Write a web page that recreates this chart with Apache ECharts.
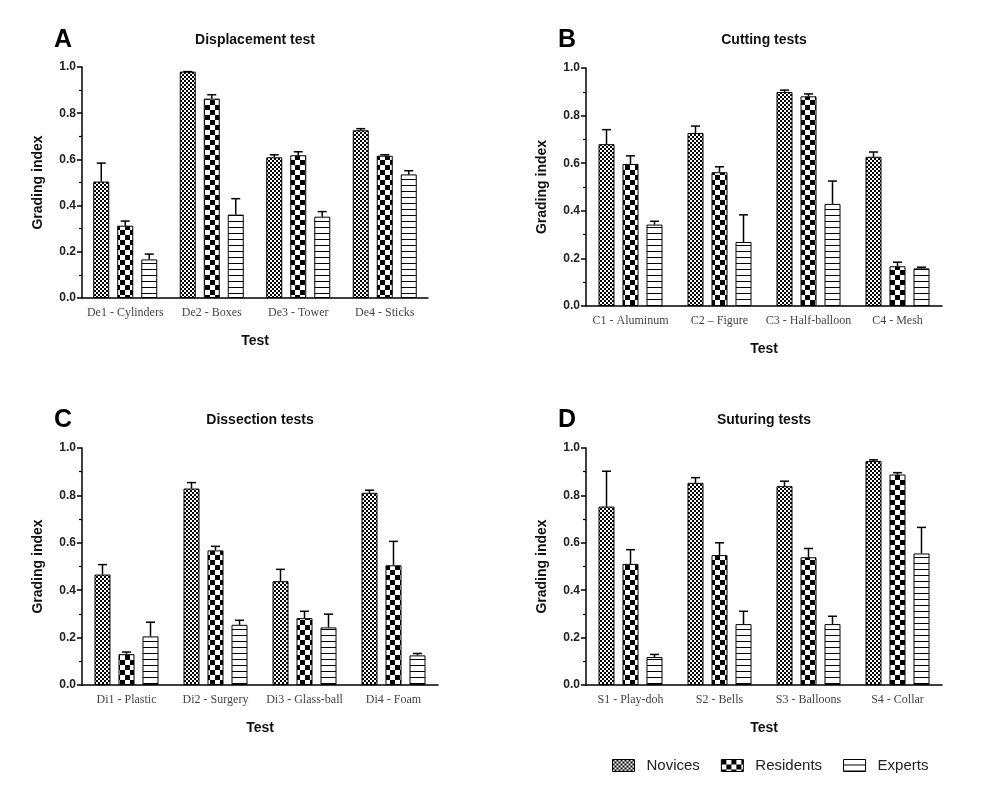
<!DOCTYPE html>
<html><head><meta charset="utf-8">
<script src="https://cdn.jsdelivr.net/npm/echarts@6/dist/echarts.min.js"></script>
<style>html,body{margin:0;padding:0;background:#fff}#c{width:1000px;height:785px}</style>
</head><body><div id="c"></div>
<script>
// ---------- data ----------
const seriesNames = ['Novices', 'Residents', 'Experts'];
const yTicks = [0, 0.2, 0.4, 0.6, 0.8, 1.0];

const catsA = ['De1 - Cylinders', 'De2 - Boxes', 'De3 - Tower', 'De4 - Sticks'];
const novA = [0.504, 0.980, 0.609, 0.726];
const novAErr = [0.080, 0.000, 0.011, 0.007];
const resA = [0.313, 0.863, 0.618, 0.616];
const resAErr = [0.020, 0.017, 0.015, 0.004];
const expA = [0.167, 0.361, 0.352, 0.535];
const expAErr = [0.023, 0.069, 0.022, 0.016];

const catsB = ['C1 - Aluminum', 'C2 \u2013 Figure', 'C3 - Half-balloon', 'C4 - Mesh'];
const novB = [0.680, 0.727, 0.899, 0.627];
const novBErr = [0.061, 0.029, 0.008, 0.020];
const resB = [0.597, 0.562, 0.881, 0.167];
const resBErr = [0.034, 0.023, 0.010, 0.017];
const expB = [0.342, 0.269, 0.429, 0.158];
const expBErr = [0.014, 0.114, 0.096, 0.005];

const catsC = ['Di1 - Plastic', 'Di2 - Surgery', 'Di3 - Glass-ball', 'Di4 - Foam'];
const novC = [0.466, 0.829, 0.438, 0.811];
const novCErr = [0.042, 0.025, 0.050, 0.011];
const resC = [0.130, 0.568, 0.282, 0.505];
const resCErr = [0.009, 0.017, 0.029, 0.101];
const expC = [0.205, 0.254, 0.243, 0.125];
const expCErr = [0.060, 0.019, 0.056, 0.008];

const catsD = ['S1 - Play-doh', 'S2 - Bells', 'S3 - Balloons', 'S4 - Collar'];
const novD = [0.753, 0.853, 0.839, 0.945];
const novDErr = [0.149, 0.022, 0.021, 0.005];
const resD = [0.511, 0.548, 0.539, 0.888];
const resDErr = [0.060, 0.052, 0.037, 0.008];
const expD = [0.118, 0.257, 0.257, 0.555];
const expDErr = [0.011, 0.054, 0.033, 0.110];

const panelTitles = ['Displacement test', 'Cutting tests', 'Dissection tests', 'Suturing tests'];
const panelLetters = ['A', 'B', 'C', 'D'];

// ---------- patterns ----------
function makeChecker(cell) {
  const c = document.createElement('canvas');
  c.width = cell * 2; c.height = cell * 2;
  const g = c.getContext('2d');
  g.fillStyle = '#fff'; g.fillRect(0, 0, c.width, c.height);
  g.fillStyle = '#000';
  g.fillRect(0, 0, cell, cell);
  g.fillRect(cell, cell, cell, cell);
  return c;
}
function makeLines(step) {
  const c = document.createElement('canvas');
  c.width = 8; c.height = step;
  const g = c.getContext('2d');
  g.fillStyle = '#fff'; g.fillRect(0, 0, c.width, c.height);
  g.fillStyle = '#000';
  g.fillRect(0, step - 1, c.width, 1);
  return c;
}
const patterns = [
  { image: makeChecker(2), repeat: 'repeat' },
  { image: makeChecker(5), repeat: 'repeat' },
  { image: makeLines(6), repeat: 'repeat' }
];

// ---------- layout ----------
const grids = [
  { left: 82, top: 67, width: 346, height: 231 },
  { left: 586, top: 68, width: 356, height: 238 },
  { left: 82, top: 448, width: 356, height: 237 },
  { left: 586, top: 448, width: 356, height: 237 }
];
const panels = [
  { cats: catsA, vals: [novA, resA, expA], errs: [novAErr, resAErr, expAErr] },
  { cats: catsB, vals: [novB, resB, expB], errs: [novBErr, resBErr, expBErr] },
  { cats: catsC, vals: [novC, resC, expC], errs: [novCErr, resCErr, expCErr] },
  { cats: catsD, vals: [novD, resD, expD], errs: [novDErr, resDErr, expDErr] }
];
const BAR_W = 16, BAR_GAP = 8;

const xAxes = [], yAxes = [], series = [], graphics = [];
panels.forEach((p, i) => {
  const g = grids[i];
  xAxes.push({
    type: 'category', gridIndex: i, data: p.cats,
    name: 'Test', nameLocation: 'middle', nameGap: 36,
    nameTextStyle: { fontFamily: 'Liberation Sans', fontWeight: 'bold', fontSize: 14, color: '#111' },
    axisLine: { lineStyle: { color: '#000', width: 1.5 } },
    axisTick: { alignWithLabel: true, length: 5, lineStyle: { color: '#000', width: 1.5 } },
    axisLabel: { fontFamily: 'Liberation Serif', fontSize: 12, color: '#444', margin: 9, interval: 0 },
    splitLine: { show: false }
  });
  yAxes.push({
    type: 'value', gridIndex: i, min: 0, max: 1, interval: 0.2,
    name: 'Grading index', nameLocation: 'middle', nameGap: 37, nameRotate: 90,
    nameTextStyle: { fontFamily: 'Liberation Sans', fontWeight: 'bold', fontSize: 14, color: '#111' },
    axisLine: { show: true, lineStyle: { color: '#000', width: 1.5 } },
    axisTick: { show: true, length: 5, lineStyle: { color: '#000', width: 1.5 } },
    minorTick: { show: true, splitNumber: 2, length: 3, lineStyle: { color: '#000', width: 1.2 } },
    axisLabel: { fontFamily: 'Liberation Sans', fontWeight: 'bold', fontSize: 12, color: '#222', margin: 6,
      formatter: v => yTicks.indexOf(Math.round(v * 10) / 10) >= 0 ? v.toFixed(1) : '' },
    splitLine: { show: false }
  });
  p.vals.forEach((vals, k) => {
    series.push({
      type: 'bar', name: seriesNames[k], xAxisIndex: i, yAxisIndex: i,
      data: vals, barWidth: BAR_W, barGap: '50%',
      itemStyle: { color: patterns[k], borderColor: '#000', borderWidth: 1 },
      emphasis: { disabled: true }, z: 2
    });
  });
  p.vals.forEach((vals, k) => {
    const offset = (k - 1) * (BAR_W + BAR_GAP);
    series.push({
      type: 'custom', name: 'err' + i + '_' + k, xAxisIndex: i, yAxisIndex: i, z: 5,
      data: vals.map((v, j) => [j, v, p.errs[k][j]]),
      renderItem: (params, api) => {
        const base = api.coord([api.value(0), api.value(1)]);
        const top = api.coord([api.value(0), api.value(1) + api.value(2)]);
        const x = base[0] + offset;
        const st = { stroke: '#000', lineWidth: 1.5 };
        return { type: 'group', children: [
          { type: 'line', shape: { x1: x, y1: base[1], x2: x, y2: top[1] }, style: st },
          { type: 'line', shape: { x1: x - 4.5, y1: top[1], x2: x + 4.5, y2: top[1] }, style: st }
        ] };
      }
    });
  });
  graphics.push({
    type: 'text', x: g.left + g.width / 2, y: (i < 2 ? 40 : 420),
    style: { text: panelTitles[i], fontFamily: 'Liberation Sans', fontWeight: 'bold', fontSize: 14,
      fill: '#111', align: 'center', verticalAlign: 'middle' }
  });
  graphics.push({
    type: 'text', x: (i % 2 === 0 ? 54 : 558), y: (i < 2 ? 40 : 420),
    style: { text: panelLetters[i], fontFamily: 'Liberation Sans', fontWeight: 'bold', fontSize: 25,
      fill: '#000', align: 'left', verticalAlign: 'middle' }
  });
});

const chart = echarts.init(document.getElementById('c'), null, { renderer: 'canvas' });
chart.setOption({
  animation: false,
  backgroundColor: '#fff',
  grid: grids.map(g => Object.assign({ containLabel: false }, g)),
  xAxis: xAxes,
  yAxis: yAxes,
  legend: {
    data: seriesNames, left: 607, top: 753, itemWidth: 22, itemHeight: 12, itemGap: 21,
    icon: 'rect',
    itemStyle: { borderColor: '#000', borderWidth: 1 },
    textStyle: { fontFamily: 'Liberation Sans', fontSize: 15, color: '#222', padding: [0, 0, 0, 7] }
  },
  graphic: graphics,
  series: series
});
</script></body></html>
